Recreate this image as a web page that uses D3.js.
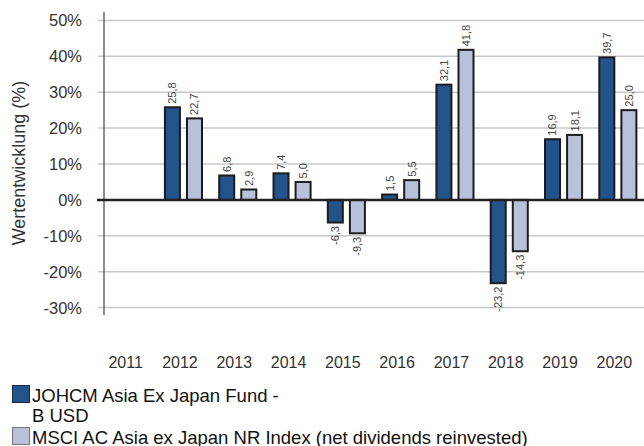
<!doctype html>
<html lang="de">
<head>
  <meta charset="utf-8">
  <title>Wertentwicklung</title>
  <style>
  body {
    margin: 0;
    background: #fff;
  }
  text {
    font-family: "Liberation Sans", Arial, Helvetica, sans-serif;
    fill: #333;
  }
  .grid line {
    stroke: #c8c8c8;
    stroke-width: 1.5px;
  }
  .ticklabel {
    font-size: 16.5px;
  }
  .yearlabel {
    font-size: 16px;
  }
  .valuelabel {
    font-size: 11px;
    fill: #444;
  }
  .legend text {
    font-size: 18.5px;
    fill: #111;
  }
  </style>
  <script src="https://d3js.org/d3.v7.min.js"></script>
</head>
<body>
<script>
// data
var years = ["2011", "2012", "2013", "2014", "2015", "2016", "2017", "2018", "2019", "2020"];
var fundValues = [null, 25.8, 6.8, 7.4, -6.3, 1.5, 32.1, -23.2, 16.9, 39.7];
var indexValues = [null, 22.7, 2.9, 5.0, -9.3, 5.5, 41.8, -14.3, 18.1, 25.0];
var yTicks = [-30, -20, -10, 0, 10, 20, 30, 40, 50];
var seriesNames = ["JOHCM Asia Ex Japan Fund -\nB USD", "MSCI AC Asia ex Japan NR Index (net dividends reinvested)"];
var seriesKeys = ["fund", "index"];
var colors = {fund: "#22548b", index: "#b9c0da"};

var width = 644, height = 446;

var svg = d3.select('body').append('svg')
  .attr('width', width)
  .attr('height', height);

// scales
var x0 = d3.scaleBand()
  .domain(years)
  .range([102, 645]);

var x1 = d3.scaleBand()
  .domain(seriesKeys)
  .range([0, x0.bandwidth()])
  .paddingInner(0.32)
  .paddingOuter(0.39);

var y = d3.scaleLinear()
  .domain([-30, 50])
  .range([307.6, 20.4]);

// gridlines + tick marks
var grid = svg.append('g').attr('class', 'grid');
grid.selectAll('line')
  .data(yTicks.filter(function(d) { return d != 0; }))
  .enter().append('line')
  .attr('x1', 98)
  .attr('x2', width)
  .attr('y1', function(d) { return y(d); })
  .attr('y2', function(d) { return y(d); });

// y tick labels
svg.selectAll('.ticklabel')
  .data(yTicks)
  .enter().append('text')
  .attr('class', 'ticklabel')
  .attr('x', 82)
  .attr('y', function(d) { return y(d); })
  .attr('dy', '0.36em')
  .attr('text-anchor', 'end')
  .text(function(d) { return d + '%'; });

// vertical axis line
svg.append('line')
  .attr('x1', 104).attr('x2', 104)
  .attr('y1', 12).attr('y2', 315)
  .attr('stroke', '#666')
  .attr('stroke-width', 1.5);

// y title
svg.append('text')
  .attr('transform', 'translate(25,163) rotate(-90)')
  .attr('text-anchor', 'middle')
  .style('font-size', '18px')
  .text('Wertentwicklung (%)');

// build rows for the bars
var rows = [];
years.forEach(function(yr, i) {
  rows.push({year: yr, key: "fund", value: fundValues[i]});
  rows.push({year: yr, key: "index", value: indexValues[i]});
});
rows = rows.filter(function(d) { return d.value != null; });

var bars = svg.append('g');
bars.selectAll('rect')
  .data(rows)
  .enter().append('rect')
  .attr('x', function(d) { return x0(d.year) + x1(d.key); })
  .attr('width', x1.bandwidth())
  .attr('y', function(d) { return y(Math.max(0, d.value)); })
  .attr('height', function(d) { return Math.abs(y(d.value) - y(0)); })
  .attr('fill', function(d) { return colors[d.key]; })
  .attr('stroke', '#1c1c1c')
  .attr('stroke-width', 2);

// zero line
svg.append('line')
  .attr('x1', 97).attr('x2', width)
  .attr('y1', y(0)).attr('y2', y(0))
  .attr('stroke', '#222')
  .attr('stroke-width', 2.5);

// value labels, rotated
bars.selectAll('.valuelabel')
  .data(rows)
  .enter().append('text')
  .attr('class', 'valuelabel')
  .attr('transform', function(d) {
    var cx = x0(d.year) + x1(d.key) + x1.bandwidth() / 2;
    var ty = d.value >= 0 ? y(d.value) - 3.5 : y(d.value) + 3.5;
    return 'translate(' + cx + ',' + ty + ') rotate(-90)';
  })
  .attr('dy', '0.36em')
  .attr('text-anchor', function(d) { return d.value >= 0 ? 'start' : 'end'; })
  .text(function(d) { return d.value.toFixed(1).replace('.', ','); });

// year labels under the plot
svg.selectAll('.yearlabel')
  .data(years)
  .enter().append('text')
  .attr('class', 'yearlabel')
  .attr('x', function(d) { return x0(d) + x0.bandwidth() / 2 - 3.5; })
  .attr('y', 368)
  .attr('text-anchor', 'middle')
  .text(function(d) { return d; });

// legend
var legend = svg.append('g').attr('class', 'legend');
var legendTop = [385, 427];
seriesKeys.forEach(function(k, i) {
  legend.append('rect')
    .attr('x', 12.5)
    .attr('y', legendTop[i] + 0.5)
    .attr('width', 17)
    .attr('height', 17)
    .attr('fill', colors[k])
    .attr('stroke', i == 0 ? '#1a2a44' : '#777')
    .attr('stroke-width', 1);
  var lines = seriesNames[i].split('\n');
  var t = legend.append('text')
    .attr('x', 32)
    .attr('y', legendTop[i] + 16.5);
  lines.forEach(function(line, j) {
    t.append('tspan')
      .attr('x', j == 0 ? 32 : 32)
      .attr('dy', j == 0 ? 0 : 20)
      .text(line);
  });
});
</script>
</body>
</html>
